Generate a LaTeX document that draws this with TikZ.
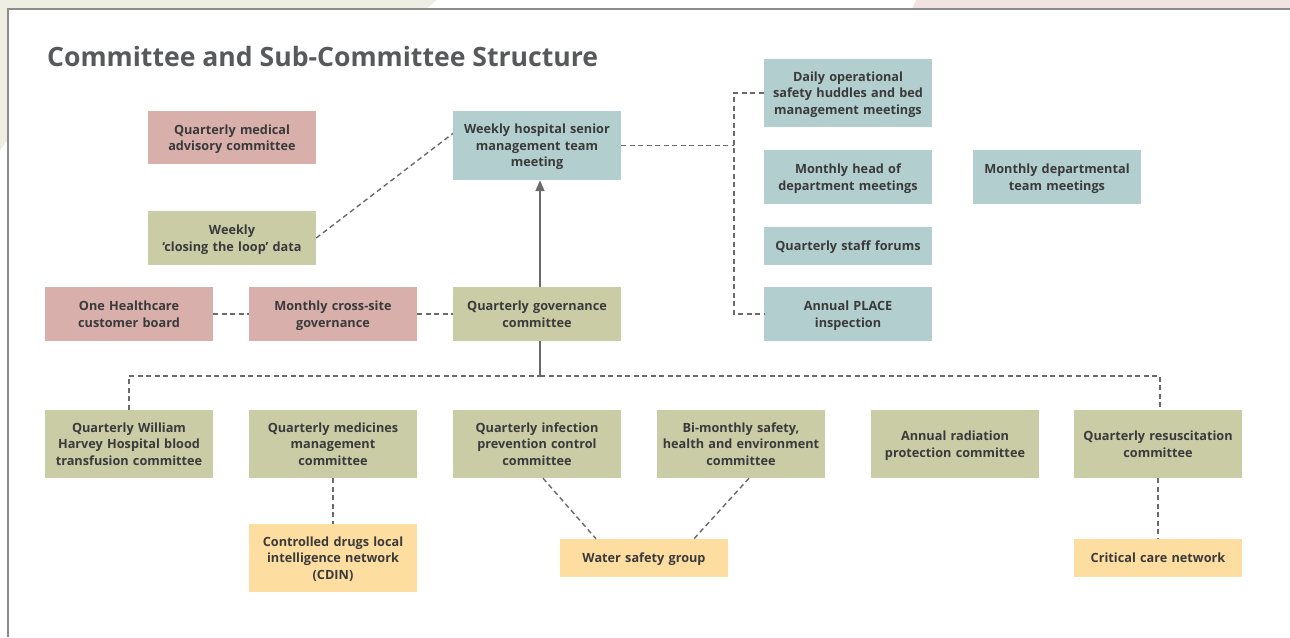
\documentclass[tikz,border=0pt]{standalone}
\usepackage{fontspec}
\setmainfont{Open Sans}
\usetikzlibrary{arrows.meta,calc}
\definecolor{bgbeige}{HTML}{EEEEE3}
\definecolor{bgpink}{HTML}{F2E3E3}
\definecolor{frame}{HTML}{8C8C8C}
\definecolor{titlegray}{HTML}{58595B}
\definecolor{ink}{HTML}{3A3A3A}
\definecolor{linkgray}{HTML}{6A6A6A}
\definecolor{rose}{HTML}{D9AFAB}
\definecolor{teal}{HTML}{B3CECE}
\definecolor{olive}{HTML}{CACCA6}
\definecolor{sand}{HTML}{FDDDA0}
% struts so that box text is centred on full line boxes
\newcommand{\topstrut}{\vrule height 13.6pt depth 0pt width 0pt}
\newcommand{\botstrut}{\vrule height 0pt depth 3.7pt width 0pt}
\tikzset{
  unitbox/.style={inner sep=0pt, minimum width=168pt, text width=166pt, align=center,
    font=\bfseries\fontsize{12.7}{16.5}\selectfont, text=ink,
    execute at begin node=\topstrut, execute at end node=\botstrut},
  rosebox/.style={unitbox, fill=rose},
  tealbox/.style={unitbox, fill=teal},
  olivebox/.style={unitbox, fill=olive},
  sandbox/.style={unitbox, fill=sand},
  link/.style={draw=linkgray, line width=1.4pt, dash pattern=on 5pt off 3.5pt},
  solidlink/.style={draw=linkgray, line width=1.6pt},
}
\begin{document}
\begin{tikzpicture}[x=1pt,y=-1pt]
\useasboundingbox (0,0) rectangle (1290,637);
% page background and framed panel
\fill[white] (0,0) rectangle (1290,637);
\fill[bgbeige] (0,0) -- (437,0) -- (426,9) -- (8,9) -- (8,140) -- (0,150) -- cycle;
\fill[bgpink] (912,9) -- (916,0) -- (1290,0) -- (1290,9) -- cycle;
\draw[frame, line width=2pt] (8,637) -- (8,9) -- (1290,9);

% title
\node[anchor=base west, inner sep=0pt, text=titlegray, font=\bfseries\fontsize{26.6}{30}\selectfont]
  (title) at (47,66) {Committee and Sub-Committee Structure};

% upper area
\node[rosebox, minimum height=53pt] (medical) at (232,137.5) {Quarterly medical\\advisory committee};
\node[tealbox, minimum height=69pt] (smt) at (537,145.5) {Weekly hospital senior\\management team\\meeting};
\node[tealbox, minimum height=68pt] (daily) at (848,93) {Daily operational\\safety huddles and bed\\management meetings};
\node[tealbox, minimum height=54pt] (head) at (848,177) {Monthly head of\\department meetings};
\node[tealbox, minimum height=54pt] (dept) at (1057,177) {Monthly departmental\\team meetings};
\node[tealbox, minimum height=38pt] (forums) at (848,246) {Quarterly staff forums};
\node[tealbox, minimum height=54pt] (place) at (848,314) {Annual PLACE\\inspection};
\node[olivebox, minimum height=54pt] (loop) at (232,238) {Weekly\\‘closing the loop’ data};

% governance row
\node[rosebox, minimum height=54pt] (onehc) at (129,314) {One Healthcare\\customer board};
\node[rosebox, minimum height=54pt] (cross) at (333,314) {Monthly cross-site\\governance};
\node[olivebox, minimum height=54pt] (gov) at (537,314) {Quarterly governance\\committee};

% committees
\node[olivebox, minimum height=68pt] (blood) at (129,444) {Quarterly William\\Harvey Hospital blood\\transfusion committee};
\node[olivebox, minimum height=68pt] (medicines) at (333,444) {Quarterly medicines\\management\\committee};
\node[olivebox, minimum height=68pt] (infection) at (537,444) {Quarterly infection\\prevention control\\committee};
\node[olivebox, minimum height=68pt] (she) at (741,444) {Bi-monthly safety,\\health and environment\\committee};
\node[olivebox, minimum height=68pt] (radiation) at (955,444) {Annual radiation\\protection committee};
\node[olivebox, minimum height=68pt] (resus) at (1158,444) {Quarterly resuscitation\\committee};

% groups and networks
\node[sandbox, minimum height=68pt] (cdin) at (333,558) {Controlled drugs local\\intelligence network\\(CDIN)};
\node[sandbox, minimum height=38pt] (water) at (644,558) {Water safety group};
\node[sandbox, minimum height=38pt] (critical) at (1158,558) {Critical care network};

% connectors
\draw[solidlink, -{Triangle[length=11pt,width=9pt]}] ([xshift=3pt]gov.north) -- ([xshift=3pt]smt.south);
\draw[link] (loop.east) -- ([yshift=12pt]smt.west);

\coordinate (rbus) at (734,145.5);
\draw[link] (smt.east) -- (rbus);
\draw[link] (daily.west) -| (rbus) |- (place.west);

\draw[link] (onehc) -- (cross);
\draw[link] (cross) -- (gov);

\coordinate (lbus) at (540,376);
\draw[solidlink] ([xshift=3pt]gov.south) -- (lbus);
\draw[link] (blood.north) |- (lbus);
\draw[link] (lbus) -| ([xshift=2pt]resus.north);

\draw[link] (medicines) -- (cdin);
\draw[link] ([xshift=6pt]infection.south) -- ([xshift=-48pt]water.north);
\draw[link] ([xshift=8pt]she.south) -- ([xshift=50pt]water.north);
\draw[link] (resus) -- (critical);
\end{tikzpicture}
\end{document}
